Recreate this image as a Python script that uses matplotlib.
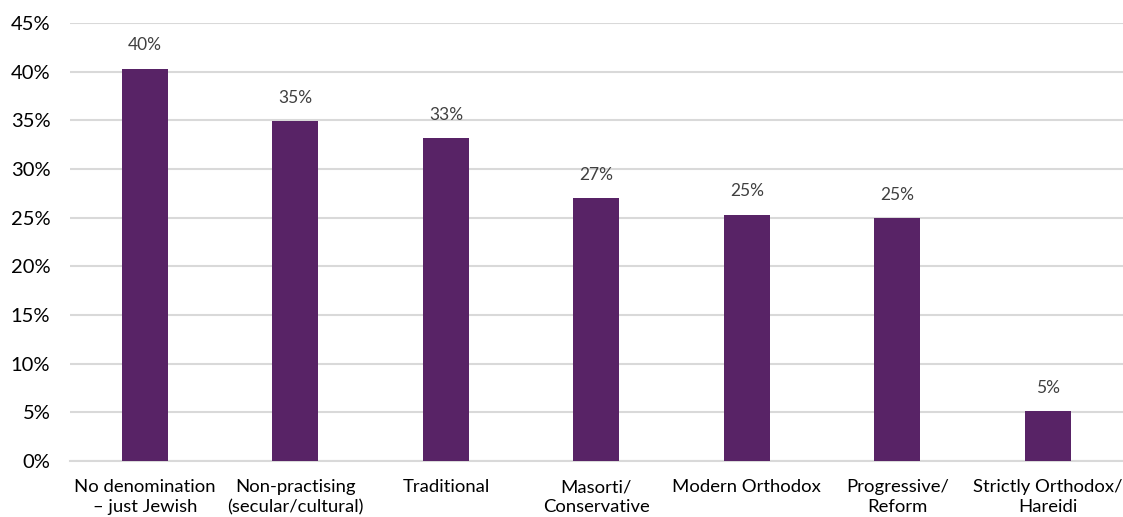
import matplotlib
matplotlib.use("Agg")
import matplotlib.pyplot as plt
from matplotlib.ticker import FuncFormatter, MultipleLocator

categories = ["No denomination\n– just Jewish", "Non-practising\n(secular/cultural)", "Traditional",
              "Masorti/\nConservative", "Modern Orthodox", "Progressive/\nReform",
              "Strictly Orthodox/\nHareidi"]
values = [40.3, 34.9, 33.2, 27.0, 25.3, 24.97, 5.14]
value_labels = ["40%", "35%", "33%", "27%", "25%", "25%", "5%"]

plt.rcParams['font.family'] = ['Lato', 'DejaVu Sans']

W, H = 1123, 517
fig = plt.figure(figsize=(W / 100, H / 100), dpi=100)
ax = fig.add_axes([69.75 / W, (H - 461) / H, (1123 - 69.75) / W, (461 - 23) / H])

x = list(range(len(categories)))
ax.bar(x, values, width=0.306, color="#582366", zorder=3)
for xi, v, lab in zip(x, values, value_labels):
    ax.annotate(lab, (xi, v), xytext=(0, 11), textcoords="offset points",
                ha="center", va="bottom", fontsize=12.5, color="#404040")

ax.set_xlim(-0.5, len(categories) - 0.5)
ax.set_ylim(0, 45)
ax.yaxis.set_major_locator(MultipleLocator(5))
ax.yaxis.set_major_formatter(FuncFormatter(lambda v, p: f"{v:.0f}%"))
ax.set_xticks(x)
ax.set_xticklabels(categories, fontsize=13.3, color="#000000", linespacing=1.32)
ax.tick_params(axis="y", labelsize=14.5, colors="#000000", length=0, pad=14)
ax.tick_params(axis="x", length=0, pad=13)
ax.grid(axis="y", color="#d9d9d9", linewidth=1.5, zorder=0)
for s in ["top", "right", "left"]:
    ax.spines[s].set_visible(False)
ax.spines["bottom"].set_color("#d9d9d9")
ax.spines["bottom"].set_linewidth(1.5)

fig.savefig("out.png", dpi=100)
